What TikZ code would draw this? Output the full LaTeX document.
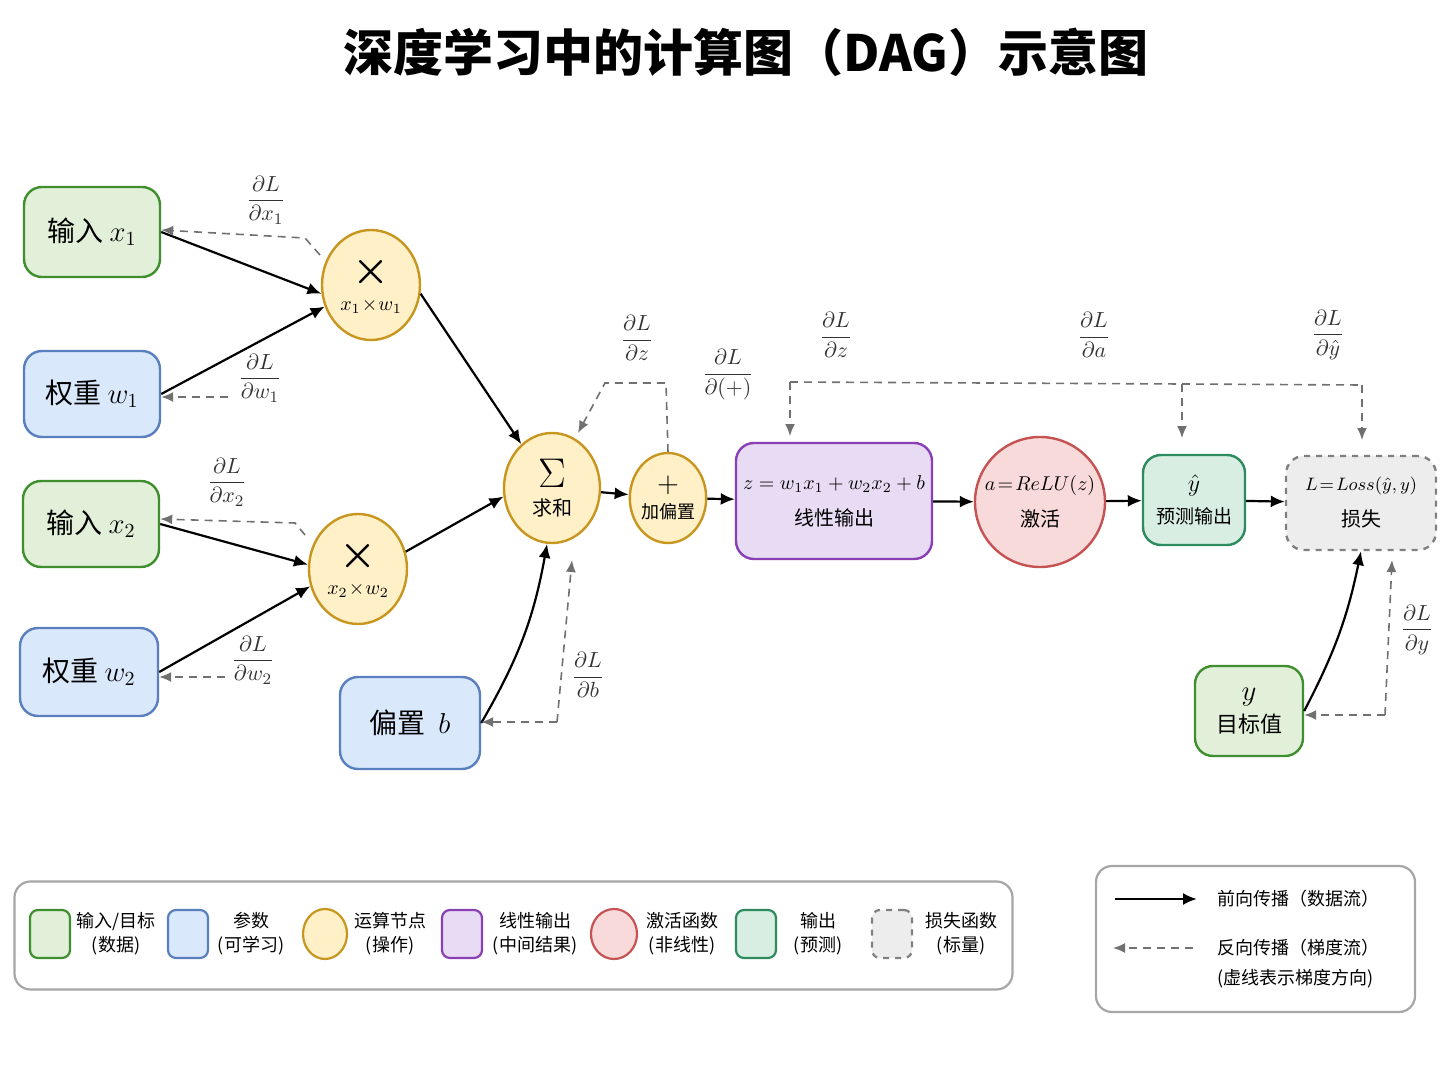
\documentclass[tikz,border=0pt]{standalone}
\usepackage{amsmath}
\usepackage{fontspec}
\setmainfont{Noto Sans CJK SC}
\usetikzlibrary{arrows.meta,shapes.geometric}
\definecolor{gF}{HTML}{E2F0D9}\definecolor{gD}{HTML}{3F8F2F}
\definecolor{bF}{HTML}{DAE8FC}\definecolor{bD}{HTML}{5A7FBF}
\definecolor{yF}{HTML}{FFF0C8}\definecolor{yD}{HTML}{C8961E}
\definecolor{pF}{HTML}{E8DCF4}\definecolor{pD}{HTML}{8A3FB5}
\definecolor{rF}{HTML}{F9DADA}\definecolor{rD}{HTML}{C65353}
\definecolor{tF}{HTML}{D8EEE2}\definecolor{tD}{HTML}{2E8B5E}
\definecolor{lF}{HTML}{EDEDED}\definecolor{lD}{HTML}{808080}
\definecolor{bk}{HTML}{707070}
\tikzset{
 box/.style={draw,rounded corners=9pt,line width=1.2pt,inner sep=0pt,font=\fontsize{14}{16}\selectfont},
 op/.style={draw=yD,fill=yF,ellipse,line width=1.2pt,inner sep=0pt,align=center},
 fw/.style={-{Latex[length=7pt,width=6pt]},line width=1.1pt,black},
 bw/.style={-{Latex[length=6pt,width=5pt]},dashed,line width=0.8pt,bk,dash pattern=on 4pt off 3pt},
 gl/.style={font=\fontsize{11}{13}\selectfont,text=black!80},
 sm/.style={font=\fontsize{9.5}{11}\selectfont},
 lg/.style={font=\fontsize{9}{12}\selectfont,align=center},
}
\begin{document}
\begin{tikzpicture}[x=0.5pt,y=-0.5pt]
\useasboundingbox (0,0) rectangle (1448,1086);
\node[font=\bfseries\fontsize{25}{28}\selectfont] (title) at (746,52) {深度学习中的计算图（DAG）示意图};
% input boxes
\node[box,draw=gD,fill=gF,minimum width=68pt,minimum height=45pt] (x1) at (92,232) {输入 $x_1$};
\node[box,draw=bD,fill=bF,minimum width=68pt,minimum height=43pt] (w1) at (92,394) {权重 $w_1$};
\node[box,draw=gD,fill=gF,minimum width=68pt,minimum height=43pt] (x2) at (91,524) {输入 $x_2$};
\node[box,draw=bD,fill=bF,minimum width=69pt,minimum height=44pt] (w2) at (89,672) {权重 $w_2$};
\node[box,draw=bD,fill=bF,minimum width=70pt,minimum height=46pt] (b) at (410,723) {偏置\ \ $b$};
% ops
\node[op,minimum width=49pt,minimum height=55pt] (m1) at (371,285) {\fontsize{20}{20}\selectfont$\boldsymbol\times$\\[2pt]\fontsize{10}{12}\selectfont$x_1\!\times\! w_1$};
\node[op,minimum width=49pt,minimum height=55pt] (m2) at (358,569) {\fontsize{20}{20}\selectfont$\boldsymbol\times$\\[2pt]\fontsize{10}{12}\selectfont$x_2\!\times\! w_2$};
\node[op,minimum width=48pt,minimum height=55pt] (s) at (552,488) {\fontsize{20}{20}\selectfont$\Sigma$\\[2pt]\fontsize{10}{12}\selectfont 求和};
\node[op,minimum width=37pt,minimum height=45pt] (p) at (668,498) {\fontsize{14}{14}\selectfont$+$\\[1pt]\fontsize{9}{11}\selectfont 加偏置};
% main chain
\node[box,draw=pD,fill=pF,minimum width=98pt,minimum height=58pt,align=center,font=\fontsize{10}{16}\selectfont] (z) at (834,501) {$z = w_1x_1 + w_2x_2 + b$\\[2pt]{\fontsize{10}{12}\selectfont 线性输出}};
\node[draw=rD,fill=rF,circle,line width=1.2pt,minimum size=65pt,align=center,inner sep=0pt,font=\fontsize{10}{16}\selectfont] (a) at (1040,502) {$a\!=\!ReLU(z)$\\[2pt]{\fontsize{10}{12}\selectfont 激活}};
\node[box,draw=tD,fill=tF,minimum width=51pt,minimum height=45pt,align=center,font=\fontsize{12}{15}\selectfont] (yh) at (1194,500) {$\hat y$\\[1pt]{\fontsize{9.5}{11}\selectfont 预测输出}};
\node[box,draw=lD,fill=lF,dashed,minimum width=75pt,minimum height=47pt,align=center,font=\fontsize{9.5}{16}\selectfont] (L) at (1361,503) {$L\!=\!Loss(\hat y,y)$\\[2pt]{\fontsize{10}{12}\selectfont 损失}};
\node[box,draw=gD,fill=gF,minimum width=54pt,minimum height=45pt,align=center,font=\fontsize{12}{15}\selectfont] (y) at (1249,711) {\fontsize{15}{15}\selectfont$y$\\[1pt]{\fontsize{11}{13}\selectfont 目标值}};
% forward
\draw[fw] (x1.east) -- (m1.190);
\draw[fw] (w1.east) -- (m1.205);
\draw[fw] (m1.-10) -- (s.125);
\draw[fw] (x2.east) -- (m2.175);
\draw[fw] (w2.east) -- (m2.200);
\draw[fw] (m2.20) -- (s.190);
\draw[fw] (b.east) to[bend right=10] (s.-95);
\draw[fw] (s) -- (p);
\draw[fw] (p) -- (z);
\draw[fw] (z) -- (a);
\draw[fw] (a) -- (yh);
\draw[fw] (yh) -- (L);
\draw[fw] (y.east) to[bend right=8] (L.-90);
% backward
\coordinate (c1) at (305,238); \coordinate (c1s) at (320,255);
\draw[bw] (c1s) -- (c1) -- (x1.east|-0,230);
\coordinate (c2) at (228,397);
\draw[bw] (c2) -- (w1.east|-c2);
\coordinate (c3s) at (305,535); \coordinate (c3) at (295,523);
\draw[bw] (c3s) -- (c3) -- (x2.east|-0,519);
\coordinate (c4) at (225,677);
\draw[bw] (c4) -- (w2.east|-c4);
\coordinate (bb1) at (557,722); \coordinate (bb2) at (572,560);
\draw[bw] (bb1) -- (b.east|-bb1);
\draw[bw] (bb1) -- (bb2);
\coordinate (pp1) at (666,383); \coordinate (pp2) at (605,383); \coordinate (pp3) at (578,433);
\draw[bw] (p.north) -- (pp1) -- (pp2) -- (pp3);
\coordinate (t1) at (790,382); \coordinate (t2) at (1182,384); \coordinate (t3) at (1362,385);
\draw[bw,-] (t1) -- (t2) -- (t3);
\draw[bw] (t1) -- (790,436);
\draw[bw] (t2) -- (1182,438);
\draw[bw] (t3) -- (1362,440);
\coordinate (yy1) at (1385,715); \coordinate (yy2) at (1392,560);
\draw[bw] (yy1) -- (yy2);
\draw[bw] (yy1) -- (y.east|-yy1);
% gradient labels
\node[gl] (g1) at (266,200) {$\dfrac{\partial L}{\partial x_1}$};
\node[gl] (g2) at (260,378) {$\dfrac{\partial L}{\partial w_1}$};
\node[gl] (g3) at (227,482) {$\dfrac{\partial L}{\partial x_2}$};
\node[gl] (g4) at (253,660) {$\dfrac{\partial L}{\partial w_2}$};
\node[gl] (g5) at (588,675) {$\dfrac{\partial L}{\partial b}$};
\node[gl] (g6) at (637,338) {$\dfrac{\partial L}{\partial z}$};
\node[gl] (g7) at (728,375) {$\dfrac{\partial L}{\partial (+)}$};
\node[gl] (g8) at (836,335) {$\dfrac{\partial L}{\partial z}$};
\node[gl] (g9) at (1094,335) {$\dfrac{\partial L}{\partial a}$};
\node[gl] (g10) at (1328,335) {$\dfrac{\partial L}{\partial \hat y}$};
\node[gl] (g11) at (1417,630) {$\dfrac{\partial L}{\partial y}$};
% legend 1
\node[draw=black!35,line width=1.1pt,rounded corners=8pt,minimum width=499pt,minimum height=54pt] (leg1) at (513.5,935.5) {};
\tikzset{ls/.style={draw,rounded corners=4pt,line width=1.1pt,minimum width=20pt,minimum height=24pt}}
\node[ls,draw=gD,fill=gF] (l1) at (50,934) {};
\node[lg] (l1t) at (116,934) {输入/目标\\(数据)};
\node[ls,draw=bD,fill=bF] (l2) at (188,934) {};
\node[lg] (l2t) at (251,934) {参数\\(可学习)};
\node[draw=yD,fill=yF,ellipse,line width=1.1pt,minimum width=22pt,minimum height=25pt] (l3) at (325,934) {};
\node[lg] (l3t) at (390,934) {运算节点\\(操作)};
\node[ls,draw=pD,fill=pF] (l4) at (462,934) {};
\node[lg] (l4t) at (535,934) {线性输出\\(中间结果)};
\node[draw=rD,fill=rF,ellipse,line width=1.1pt,minimum width=23pt,minimum height=25pt] (l5) at (614,934) {};
\node[lg] (l5t) at (682,934) {激活函数\\(非线性)};
\node[ls,draw=tD,fill=tF] (l6) at (756,934) {};
\node[lg] (l6t) at (818,934) {输出\\(预测)};
\node[ls,draw=lD,fill=lF,dashed] (l7) at (892,934) {};
\node[lg] (l7t) at (961,934) {损失函数\\(标量)};
% legend 2
\node[draw=black!35,line width=1.1pt,rounded corners=8pt,minimum width=159.5pt,minimum height=73pt] (leg2) at (1255.5,939) {};
\coordinate (a1) at (1115,899); \coordinate (a2) at (1197,899);
\draw[fw] (a1) -- (a2);
\node[lg,anchor=west] (a2t) at (1210,899) {前向传播（数据流）};
\coordinate (d1) at (1193,948); \coordinate (d2) at (1113,948);
\draw[bw] (d1) -- (d2);
\node[lg,anchor=west,align=left] (d2t) at (1210,964) {反向传播（梯度流）\\[3pt](虚线表示梯度方向)};
\end{tikzpicture}
\end{document}
